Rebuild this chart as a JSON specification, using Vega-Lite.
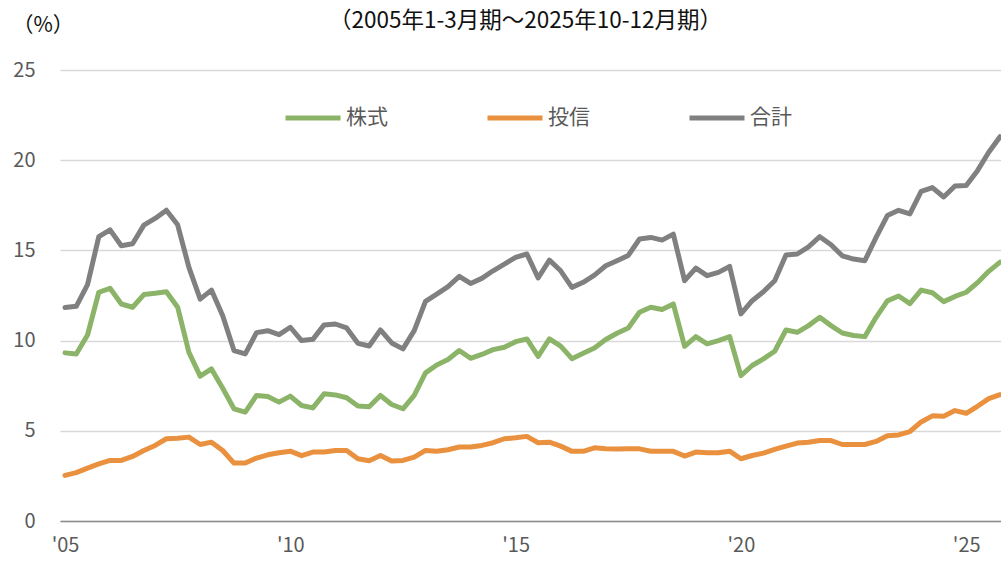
{
  "$schema": "https://vega.github.io/schema/vega-lite/v6.json",
  "width": 941,
  "height": 451,
  "autosize": {"type": "none"},
  "padding": {"left": 60, "top": 70, "right": 0, "bottom": 40},
  "background": "white",
  "title": {
    "text": "（2005年1-3月期～2025年10-12月期）",
    "fontSize": 22.5,
    "fontWeight": "normal",
    "color": "#111111",
    "anchor": "middle",
    "frame": "group",
    "baseline": "bottom",
    "offset": -41.5,
    "dx": -5
  },
  "data": {
    "values": [
      {"t": 2005.00, "株式": 9.32, "投信": 2.53, "合計": 11.83},
      {"t": 2005.25, "株式": 9.26, "投信": 2.68, "合計": 11.90},
      {"t": 2005.50, "株式": 10.31, "投信": 2.93, "合計": 13.10},
      {"t": 2005.75, "株式": 12.68, "投信": 3.17, "合計": 15.76},
      {"t": 2006.00, "株式": 12.90, "投信": 3.36, "合計": 16.14},
      {"t": 2006.25, "株式": 12.03, "投信": 3.36, "合計": 15.26},
      {"t": 2006.50, "株式": 11.85, "投信": 3.58, "合計": 15.37},
      {"t": 2006.75, "株式": 12.55, "投信": 3.91, "合計": 16.40},
      {"t": 2007.00, "株式": 12.62, "投信": 4.19, "合計": 16.77},
      {"t": 2007.25, "株式": 12.71, "投信": 4.56, "合計": 17.23},
      {"t": 2007.50, "株式": 11.85, "投信": 4.59, "合計": 16.42},
      {"t": 2007.75, "株式": 9.35, "投信": 4.65, "合計": 14.06},
      {"t": 2008.00, "株式": 8.03, "投信": 4.24, "合計": 12.30},
      {"t": 2008.25, "株式": 8.43, "投信": 4.37, "合計": 12.80},
      {"t": 2008.50, "株式": 7.36, "投信": 3.91, "合計": 11.38},
      {"t": 2008.75, "株式": 6.22, "投信": 3.21, "合計": 9.45},
      {"t": 2009.00, "株式": 6.03, "投信": 3.21, "合計": 9.26},
      {"t": 2009.25, "株式": 6.96, "投信": 3.49, "合計": 10.44},
      {"t": 2009.50, "株式": 6.90, "投信": 3.67, "合計": 10.55},
      {"t": 2009.75, "株式": 6.59, "投信": 3.78, "合計": 10.33},
      {"t": 2010.00, "株式": 6.92, "投信": 3.87, "合計": 10.74},
      {"t": 2010.25, "株式": 6.40, "投信": 3.62, "合計": 10.00},
      {"t": 2010.50, "株式": 6.27, "投信": 3.82, "合計": 10.07},
      {"t": 2010.75, "株式": 7.05, "投信": 3.82, "合計": 10.87},
      {"t": 2011.00, "株式": 6.99, "投信": 3.91, "合計": 10.92},
      {"t": 2011.25, "株式": 6.83, "投信": 3.91, "合計": 10.70},
      {"t": 2011.50, "株式": 6.37, "投信": 3.45, "合計": 9.85},
      {"t": 2011.75, "株式": 6.33, "投信": 3.34, "合計": 9.70},
      {"t": 2012.00, "株式": 6.96, "投信": 3.63, "合計": 10.59},
      {"t": 2012.25, "株式": 6.46, "投信": 3.32, "合計": 9.87},
      {"t": 2012.50, "株式": 6.22, "投信": 3.36, "合計": 9.54},
      {"t": 2012.75, "株式": 6.96, "投信": 3.54, "合計": 10.55},
      {"t": 2013.00, "株式": 8.21, "投信": 3.91, "合計": 12.18},
      {"t": 2013.25, "株式": 8.65, "投信": 3.87, "合計": 12.58},
      {"t": 2013.50, "株式": 8.95, "投信": 3.95, "合計": 12.99},
      {"t": 2013.75, "株式": 9.45, "投信": 4.10, "合計": 13.56},
      {"t": 2014.00, "株式": 9.02, "投信": 4.10, "合計": 13.17},
      {"t": 2014.25, "株式": 9.23, "投信": 4.19, "合計": 13.45},
      {"t": 2014.50, "株式": 9.50, "投信": 4.34, "合計": 13.87},
      {"t": 2014.75, "株式": 9.63, "投信": 4.56, "合計": 14.24},
      {"t": 2015.00, "株式": 9.94, "投信": 4.61, "合計": 14.61},
      {"t": 2015.25, "株式": 10.09, "投信": 4.69, "合計": 14.80},
      {"t": 2015.50, "株式": 9.13, "投信": 4.34, "合計": 13.47},
      {"t": 2015.75, "株式": 10.09, "投信": 4.37, "合計": 14.46},
      {"t": 2016.00, "株式": 9.69, "投信": 4.15, "合計": 13.87},
      {"t": 2016.25, "株式": 9.00, "投信": 3.86, "合計": 12.95},
      {"t": 2016.50, "株式": 9.30, "投信": 3.86, "合計": 13.23},
      {"t": 2016.75, "株式": 9.59, "投信": 4.06, "合計": 13.63},
      {"t": 2017.00, "株式": 10.06, "投信": 4.00, "合計": 14.15},
      {"t": 2017.25, "株式": 10.41, "投信": 3.99, "合計": 14.43},
      {"t": 2017.50, "株式": 10.70, "投信": 4.00, "合計": 14.72},
      {"t": 2017.75, "株式": 11.57, "投信": 4.00, "合計": 15.63},
      {"t": 2018.00, "株式": 11.85, "投信": 3.87, "合計": 15.72},
      {"t": 2018.25, "株式": 11.72, "投信": 3.86, "合計": 15.57},
      {"t": 2018.50, "株式": 12.03, "投信": 3.86, "合計": 15.90},
      {"t": 2018.75, "株式": 9.68, "投信": 3.60, "合計": 13.32},
      {"t": 2019.00, "株式": 10.22, "投信": 3.82, "合計": 14.02},
      {"t": 2019.25, "株式": 9.82, "投信": 3.78, "合計": 13.60},
      {"t": 2019.50, "株式": 10.00, "投信": 3.78, "合計": 13.78},
      {"t": 2019.75, "株式": 10.22, "投信": 3.87, "合計": 14.11},
      {"t": 2020.00, "株式": 8.06, "投信": 3.45, "合計": 11.48},
      {"t": 2020.25, "株式": 8.62, "投信": 3.63, "合計": 12.21},
      {"t": 2020.50, "株式": 8.99, "投信": 3.76, "合計": 12.71},
      {"t": 2020.75, "株式": 9.41, "投信": 3.97, "合計": 13.32},
      {"t": 2021.00, "株式": 10.59, "投信": 4.15, "合計": 14.74},
      {"t": 2021.25, "株式": 10.46, "投信": 4.32, "合計": 14.80},
      {"t": 2021.50, "株式": 10.83, "投信": 4.37, "合計": 15.20},
      {"t": 2021.75, "株式": 11.29, "投信": 4.46, "合計": 15.76},
      {"t": 2022.00, "株式": 10.83, "投信": 4.46, "合計": 15.31},
      {"t": 2022.25, "株式": 10.42, "投信": 4.24, "合計": 14.70},
      {"t": 2022.50, "株式": 10.28, "投信": 4.24, "合計": 14.52},
      {"t": 2022.75, "株式": 10.22, "投信": 4.24, "合計": 14.43},
      {"t": 2023.00, "株式": 11.29, "投信": 4.41, "合計": 15.72},
      {"t": 2023.25, "株式": 12.20, "投信": 4.73, "合計": 16.93},
      {"t": 2023.50, "株式": 12.47, "投信": 4.77, "合計": 17.22},
      {"t": 2023.75, "株式": 12.05, "投信": 4.96, "合計": 17.02},
      {"t": 2024.00, "株式": 12.80, "投信": 5.49, "合計": 18.27},
      {"t": 2024.25, "株式": 12.65, "投信": 5.83, "合計": 18.48},
      {"t": 2024.50, "株式": 12.16, "投信": 5.81, "合計": 17.96},
      {"t": 2024.75, "株式": 12.45, "投信": 6.12, "合計": 18.57},
      {"t": 2025.00, "株式": 12.68, "投信": 5.97, "合計": 18.60},
      {"t": 2025.25, "株式": 13.21, "投信": 6.36, "合計": 19.42},
      {"t": 2025.50, "株式": 13.84, "投信": 6.78, "合計": 20.44},
      {"t": 2025.75, "株式": 14.35, "投信": 7.00, "合計": 21.30}
    ]
  },
  "transform": [{"fold": ["株式", "投信", "合計"], "as": ["系列", "値"]}],
  "mark": {"type": "line", "strokeWidth": 5, "strokeJoin": "round", "strokeCap": "round", "clip": true},
  "encoding": {
    "x": {
      "field": "t",
      "type": "quantitative",
      "scale": {"domain": [2004.889, 2025.772], "nice": false, "zero": false},
      "axis": {
        "title": null,
        "values": [2005, 2010, 2015, 2020, 2025],
        "labelExpr": "\"'\" + substring(toString(datum.value), 2, 4)",
        "grid": false,
        "ticks": false,
        "domain": true,
        "domainColor": "#8c8c8c",
        "domainWidth": 1.5,
        "labelFontSize": 20,
        "labelColor": "#595959",
        "labelPadding": 14,
        "labelFlush": false
      }
    },
    "y": {
      "field": "値",
      "type": "quantitative",
      "scale": {"domain": [0, 25], "nice": false},
      "axis": {
        "values": [0, 5, 10, 15, 20, 25],
        "grid": true,
        "gridColor": "#d9d9d9",
        "gridWidth": 1.5,
        "domain": false,
        "ticks": false,
        "labelFontSize": 20,
        "labelColor": "#595959",
        "labelPadding": 25,
        "title": "（%）",
        "titleAngle": 0,
        "titleAlign": "left",
        "titleBaseline": "top",
        "titleX": -48,
        "titleY": -56,
        "titleFontSize": 21,
        "titleFontWeight": "normal",
        "titleColor": "#111111"
      }
    },
    "color": {
      "field": "系列",
      "type": "nominal",
      "scale": {"domain": ["株式", "投信", "合計"], "range": ["#8cb469", "#e9913f", "#808080"]},
      "legend": {
        "orient": "none",
        "legendX": 223,
        "legendY": 18,
        "direction": "horizontal",
        "title": null,
        "symbolType": "stroke",
        "symbolSize": 3025,
        "symbolStrokeWidth": 5,
        "labelFontSize": 21,
        "labelColor": "#595959",
        "labelOffset": 3,
        "columnPadding": 89,
        "padding": 0
      }
    }
  },
  "config": {
    "font": "Noto Sans CJK JP",
    "view": {"stroke": null}
  }
}
